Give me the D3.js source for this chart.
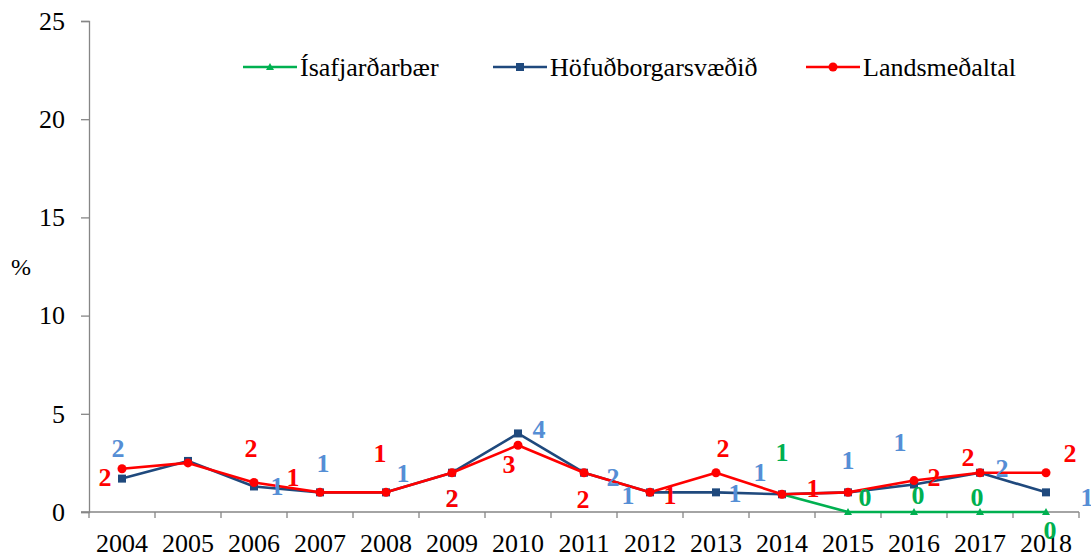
<!DOCTYPE html>
<html lang="en">
<head>
<meta charset="utf-8">
<title>Hlutfall</title>
<script src="https://d3js.org/d3.v7.min.js"></script>
<style>
  body { margin: 0; background: #fff; }
</style>
</head>
<body>
<div id="chart"></div>
<script>
// data
var years = ["2004","2005","2006","2007","2008","2009","2010","2011","2012","2013","2014","2015","2016","2017","2018"];
var isafjordur = [null,null,null,null,null,null,null,null,null,null,0.9,0,0,0,0];
var hofudborg = [1.7,2.6,1.3,1.0,1.0,2.0,4.0,2.0,1.0,1.0,0.9,1.0,1.4,2.0,1.0];
var landsmedaltal = [2.2,2.5,1.5,1.0,1.0,2.0,3.4,2.0,1.0,2.0,0.9,1.0,1.6,2.0,2.0];
var yTicks = [0,5,10,15,20,25];

// hand placed data label offsets (like in the original spreadsheet), null = no label
var offIsa = [null,null,null,null,null,null,null,null,null,null,[0,-42],[17,-15],[4,-17],[-3,-15],[4,18]];
var offHof = [[-4,-30],null,[23,0],[3,-29],[17,-19],[0,25],[21,-4],[29,4],[-22,3],[19,1],[-22,-22],[0,-32],[-14,-42],[22,-5],[41,5]];
var offLand = [[-17,8],null,[-3,-34],[-27,-15],[-6,-39],[0,25],[-9,19],[-1,26],[20,3],[7,-25],[31,-6],null,[20,-3],[-12,-16],[24,-20]];

var series = [
  {name: "Ísafjarðarbær", values: isafjordur, off: offIsa, color: "#00B050", labelColor: "#00B050", marker: "triangle"},
  {name: "Höfuðborgarsvæðið", values: hofudborg, off: offHof, color: "#1F497D", labelColor: "#558ED5", marker: "square"},
  {name: "Landsmeðaltal", values: landsmedaltal, off: offLand, color: "#FF0000", labelColor: "#FF0000", marker: "circle"}
];

var FONT = "'Liberation Serif', 'Times New Roman', serif";
var width = 1091, height = 556;
var mLeft = 89, mRight = 1079, mTop = 21, mBottom = 512;

var svg = d3.select("#chart").append("svg")
  .attr("width", width)
  .attr("height", height);

var x = d3.scaleBand().domain(years).range([mLeft, mRight]);
var y = d3.scaleLinear().domain([0, 25]).range([mBottom, mTop]);
var cx = function (i) { return x(years[i]) + x.bandwidth() / 2; };

// y axis
var yAxis = svg.append("g")
  .attr("transform", "translate(" + mLeft + ",0)")
  .call(d3.axisLeft(y).tickValues(yTicks).tickSize(8).tickPadding(16));
yAxis.selectAll("text").attr("fill", "#000")
  .style("font-family", FONT).style("font-size", "26px");
yAxis.select(".domain").attr("stroke", "#868686").attr("stroke-width", 1.3);
yAxis.selectAll(".tick line").attr("stroke", "#868686").attr("stroke-width", 1.3);

// x axis, ticks between the categories
var xAxis = svg.append("g").attr("transform", "translate(0," + mBottom + ")");
xAxis.append("line")
  .attr("x1", mLeft - 8).attr("x2", mRight)
  .attr("stroke", "#868686").attr("stroke-width", 1.3);
xAxis.selectAll(".tk")
  .data(years.concat(["end"]))
  .enter().append("line")
  .attr("x1", function (d, i) { return mLeft + i * x.bandwidth(); })
  .attr("x2", function (d, i) { return mLeft + i * x.bandwidth(); })
  .attr("y1", 0).attr("y2", 6)
  .attr("stroke", "#868686").attr("stroke-width", 1.3);
xAxis.selectAll(".lb")
  .data(years)
  .enter().append("text")
  .attr("x", function (d, i) { return cx(i); })
  .attr("y", 40)
  .attr("text-anchor", "middle")
  .style("font-family", FONT).style("font-size", "26px")
  .text(function (d) { return d; });

svg.append("text")
  .attr("x", 21).attr("y", 275)
  .attr("text-anchor", "middle")
  .style("font-family", FONT).style("font-size", "24px")
  .text("%");

var line = d3.line()
  .defined(function (d) { return d != null; })
  .x(function (d, i) { return cx(i); })
  .y(function (d) { return y(d); });

function drawMarker(g, type, color) {
  if (type === "square") {
    g.append("rect").attr("x", -4).attr("y", -4).attr("width", 8).attr("height", 8).attr("fill", color);
  } else if (type === "circle") {
    g.append("circle").attr("r", 4.5).attr("fill", color);
  } else {
    g.append("path").attr("d", "M0,-4L4,3L-4,3Z").attr("fill", color);
  }
}

var fmt = d3.format(".0f");

series.forEach(function (s) {
  svg.append("path")
    .datum(s.values)
    .attr("fill", "none")
    .attr("stroke", s.color)
    .attr("stroke-width", 2.6)
    .attr("stroke-linejoin", "round")
    .attr("d", line);

  s.values.forEach(function (v, i) {
    if (v == null) return;
    var g = svg.append("g").attr("transform", "translate(" + cx(i) + "," + y(v) + ")");
    drawMarker(g, s.marker, s.color);
  });
});

// data labels on top
series.forEach(function (s) {
  s.values.forEach(function (v, i) {
    if (v == null || !s.off[i]) return;
    svg.append("text")
      .attr("x", cx(i) + s.off[i][0])
      .attr("y", y(v) + s.off[i][1])
      .attr("dy", "0.34em")
      .attr("text-anchor", "middle")
      .style("font-family", FONT).style("font-size", "26px").style("font-weight", "bold")
      .attr("fill", s.labelColor)
      .text(fmt(v));
  });
});

// legend
var legend = svg.append("g");
var legX = [243, 493, 806];
series.forEach(function (s, i) {
  var lg = legend.append("g").attr("transform", "translate(" + legX[i] + ",67)");
  lg.append("line").attr("x1", 0).attr("x2", 54)
    .attr("stroke", s.color).attr("stroke-width", 2.6);
  drawMarker(lg.append("g").attr("transform", "translate(27,0)"), s.marker, s.color);
  lg.append("text").attr("x", 57).attr("dy", "0.34em")
    .style("font-family", FONT).style("font-size", "26px")
    .text(s.name);
});
</script>
</body>
</html>
